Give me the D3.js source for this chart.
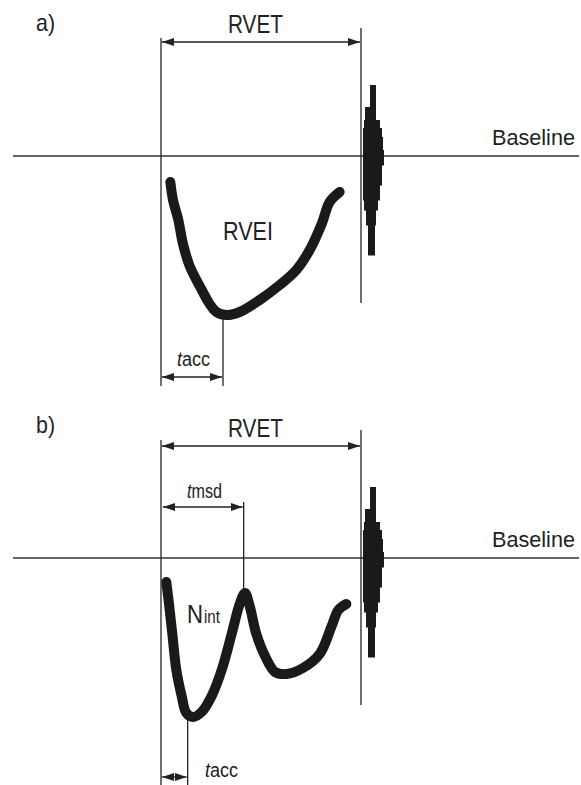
<!DOCTYPE html>
<html>
<head>
<meta charset="utf-8">
<script src="https://cdn.jsdelivr.net/npm/d3@7"></script>
<style>
  body { margin: 0; background: #fff; }
  svg text { font-family: "Liberation Sans", Arial, sans-serif; fill: #222; }
</style>
</head>
<body>
<div id="chart"></div>
<script>
// time in ms from onset of ejection, velocity in cm/s (negative = away from probe)
var curveA = [
  [14, -13], [18, -22], [26, -32], [33, -44], [43, -55], [58, -65], [73, -74],
  [83, -78], [98, -79.5], [118, -78], [148, -72], [178, -64.5], [203, -57],
  [223, -47], [241, -34], [253, -23], [268, -18]
];
var curveB = [
  [8, -12], [12, -23], [17, -38], [23, -56], [31, -69], [38, -77.5], [48, -79.5],
  [61, -77], [76, -69], [91, -56], [106, -38], [118, -23], [126, -17.5],
  [133, -24], [143, -38], [156, -49], [171, -57], [188, -58], [213, -55],
  [238, -48], [256, -34], [266, -26], [278, -23]
];
// valve closure click: velocity band [top, next] with time extent
var clickTop = [35.5, 24.5, 18, 14, 9.5, 3, -4.5, -14.5, -22, -27, -34.5];
var clickBottom = -49.5;
var clickStart = [313.5, 306, 304.5, 303, 303, 303, 303, 303, 304.5, 307.5, 310.5];
var clickEnd = [322.5, 322.5, 328.5, 331.5, 333, 334.5, 331.5, 328.5, 325.5, 322.5, 321];

var rvet = 300;        // right ventricular ejection time
var taccA = 93;        // acceleration time, panel a
var taccB = 40;        // acceleration time, panel b
var tmsd = 124;        // mid-systolic deceleration (notch) time

var width = 581, height = 785;

var svg = d3.select("#chart").append("svg")
  .attr("width", width)
  .attr("height", height);

var defs = svg.append("defs");
["start", "end"].forEach(function(k) {
  defs.append("marker")
    .attr("id", "arrow-" + k)
    .attr("viewBox", "0 0 12 8")
    .attr("refX", 12).attr("refY", 4)
    .attr("markerWidth", 12).attr("markerHeight", 8)
    .attr("markerUnits", "userSpaceOnUse")
    .attr("orient", k == "end" ? "auto" : "auto-start-reverse")
    .append("path")
      .attr("d", "M0,0L12,4L0,8Z")
      .attr("fill", "#222");
});

var x = d3.scaleLinear().domain([0, rvet]).range([161, 361]);

function thin(g, x1, y1, x2, y2) {
  return g.append("line")
    .attr("x1", x1).attr("y1", y1).attr("x2", x2).attr("y2", y2)
    .attr("stroke", "#222").attr("stroke-width", 1.3);
}

function arrow(g, x1, x2, yy) {
  thin(g, x1, yy, x2, yy)
    .attr("marker-start", "url(#arrow-start)")
    .attr("marker-end", "url(#arrow-end)");
}

// narrow label: the original face is a condensed sans, so squeeze to width
function label(g, xx, yy, size, w) {
  return g.append("text").attr("x", xx).attr("y", yy)
    .attr("font-size", size)
    .attr("textLength", w)
    .attr("lengthAdjust", "spacingAndGlyphs");
}

function tLabel(g, xx, yy, sub, w) {
  var t = label(g, xx, yy, 20, w);
  t.append("tspan").attr("font-style", "italic").text("t");
  t.append("tspan").text(sub);
  return t;
}

//-------------------------------------------------------------------
function drawPanel(opt) {
  var g = svg.append("g");
  var y = d3.scaleLinear().domain([0, 1]).range([opt.base, opt.base - 2]);

  // baseline
  g.append("line")
    .attr("x1", 13).attr("x2", 579)
    .attr("y1", y(0)).attr("y2", y(0))
    .attr("stroke", "#333").attr("stroke-width", 1.5);

  label(g, 492, y(0) - 11, 22.5, 83).text("Baseline");
  label(g, 36, opt.base - 125, 24, 19).text(opt.tag);

  // RVET dimension
  thin(g, x(0), y(59), x(0), y(-115));
  thin(g, x(rvet), y(64), x(rvet), y(-73.5));
  arrow(g, x(0) + 1, x(rvet) - 1, y(opt.rvetV));
  label(g, 228, y(opt.rvetV) - 9, 25, 55).text("RVET");

  // click
  g.selectAll("rect.click")
    .data(clickTop)
    .enter().append("rect")
      .attr("class", "click")
      .attr("x", function(d, i) { return x(clickStart[i]); })
      .attr("width", function(d, i) { return x(clickEnd[i]) - x(clickStart[i]); })
      .attr("y", function(d) { return y(d); })
      .attr("height", function(d, i) {
        var next = i + 1 < clickTop.length ? clickTop[i + 1] : clickBottom;
        return y(next) - y(d) + 0.5;
      })
      .attr("fill", "#1a1a1a");

  // flow envelope
  g.append("path")
    .datum(opt.curve)
    .attr("d", d3.line()
      .x(function(d) { return x(d[0]); })
      .y(function(d) { return y(d[1]); })
      .curve(d3.curveCatmullRom.alpha(0.5)))
    .attr("fill", "none")
    .attr("stroke", "#1a1a1a")
    .attr("stroke-width", 10)
    .attr("stroke-linecap", "round")
    .attr("stroke-linejoin", "round");

  // acceleration time
  thin(g, x(opt.tacc), y(opt.taccTop), x(opt.tacc), y(-115));
  arrow(g, x(0) + 1, x(opt.tacc) - 1, y(opt.taccV));
  tLabel(g, opt.taccX, opt.taccY, "acc", 33);

  return {g: g, y: y};
}

var a = drawPanel({
  tag: "a)", base: 156, curve: curveA, rvetV: 57,
  tacc: taccA, taccTop: -79, taccV: -110.5, taccX: 177, taccY: 366
});
label(a.g, 223, 240, 25, 50).text("RVEI");

var b = drawPanel({
  tag: "b)", base: 558, curve: curveB, rvetV: 56,
  tacc: taccB, taccTop: -79, taccV: -109.5, taccX: 205, taccY: 777
});

// mid-systolic notch
thin(b.g, x(tmsd), b.y(28), x(tmsd), b.y(-17));
arrow(b.g, x(0) + 2, x(tmsd) - 1, b.y(25.5));
tLabel(b.g, 187, 498, "msd", 35);

label(b.g, 187, 623, 25, 16).text("N");
label(b.g, 204, 623, 19, 16).text("int");
</script>
</body>
</html>
